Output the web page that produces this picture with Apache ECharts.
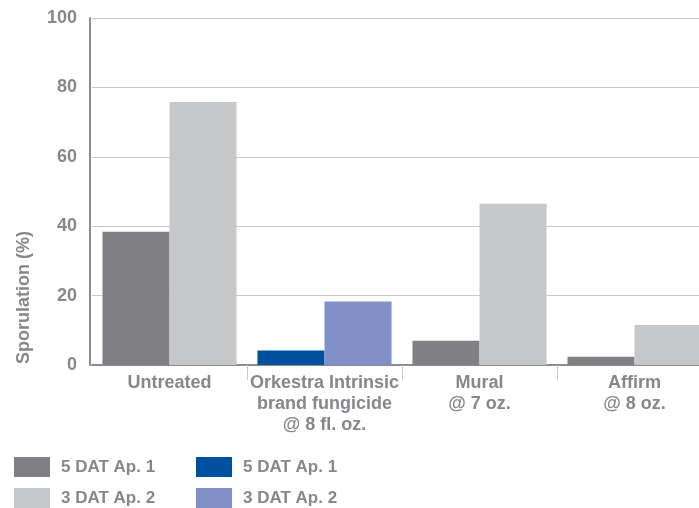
<!DOCTYPE html>
<html>
<head>
<meta charset="utf-8">
<script src="https://cdn.jsdelivr.net/npm/echarts@6/dist/echarts.min.js"></script>
<style>
html,body{margin:0;padding:0;background:#fff;overflow:hidden;width:699px;height:508px;}
#c{width:712px;height:508px;}
</style>
</head>
<body>
<div id="c"></div>
<script>
const categories = ['Untreated', 'Orkestra Intrinsic\nbrand fungicide\n@ 8 fl. oz.', 'Mural\n@ 7 oz.', 'Affirm\n@ 8 oz.'];
const grayAp1 = [38.4, null, 7.0, 2.4];
const grayAp2 = [75.8, null, 46.5, 11.5];
const blueAp1 = [null, 4.2, null, null];
const blueAp2 = [null, 18.3, null, null];
const yTicks = [0, 20, 40, 60, 80, 100];

const TXT = '#87878b';
const FONT = "'Liberation Sans', Arial, sans-serif";

const chart = echarts.init(document.getElementById('c'));
const legendCommon = {
  orient: 'vertical', top: 457, padding: 0, itemGap: 11,
  itemWidth: 36, itemHeight: 20, icon: 'rect', selectedMode: false,
  formatter: n => n.trim(),
  textStyle: { color: TXT, fontSize: 17, fontWeight: 'bold', fontFamily: FONT, padding: [0, 0, 0, 6] }
};
chart.setOption({
  animation: false,
  grid: { left: 92, right: 0, top: 18, bottom: 143, containLabel: false },
  legend: [
    Object.assign({ left: 14, data: ['5 DAT Ap. 1', '3 DAT Ap. 2'] }, legendCommon),
    Object.assign({ left: 196, data: ['5 DAT Ap. 1 ', '3 DAT Ap. 2 '] }, legendCommon)
  ],
  graphic: [{
    type: 'text', left: 15, top: 231, z: 10,
    rotation: Math.PI / 2,
    style: { text: 'Sporulation (%)', fill: TXT, font: "bold 18px 'Liberation Sans', Arial, sans-serif" }
  }],
  xAxis: {
    type: 'category', data: categories,
    axisLine: { lineStyle: { color: '#8c8c8e', width: 2 } },
    axisTick: { show: true, length: 15, lineStyle: { color: '#c8c8c8', width: 1 }, interval: (i) => i !== 0 },
    axisLabel: { interval: 0, margin: 8, color: TXT, fontSize: 18, fontWeight: 'bold', fontFamily: FONT, lineHeight: 21 }
  },
  yAxis: {
    type: 'value', min: yTicks[0], max: yTicks[yTicks.length - 1], interval: 20, offset: 2,
    axisLine: { show: true, lineStyle: { color: '#8c8c8e', width: 2 } },
    axisTick: { show: false },
    splitLine: { lineStyle: { color: '#c8c8c8', width: 1 } },
    axisLabel: { margin: 13, color: TXT, fontSize: 18, fontWeight: 'bold', fontFamily: FONT }
  },
  series: [
    { name: '5 DAT Ap. 1', type: 'bar', stack: 'a', data: grayAp1, itemStyle: { color: '#808084' }, barGap: '0%', barCategoryGap: '13.5%' },
    { name: '5 DAT Ap. 1 ', type: 'bar', stack: 'a', data: blueAp1, itemStyle: { color: '#0050a0' }, barGap: '0%', barCategoryGap: '13.5%' },
    { name: '3 DAT Ap. 2', type: 'bar', stack: 'b', data: grayAp2, itemStyle: { color: '#c6c7c9' }, barGap: '0%', barCategoryGap: '13.5%' },
    { name: '3 DAT Ap. 2 ', type: 'bar', stack: 'b', data: blueAp2, itemStyle: { color: '#8191c8' }, barGap: '0%', barCategoryGap: '13.5%' }
  ]
});
</script>
</body>
</html>
